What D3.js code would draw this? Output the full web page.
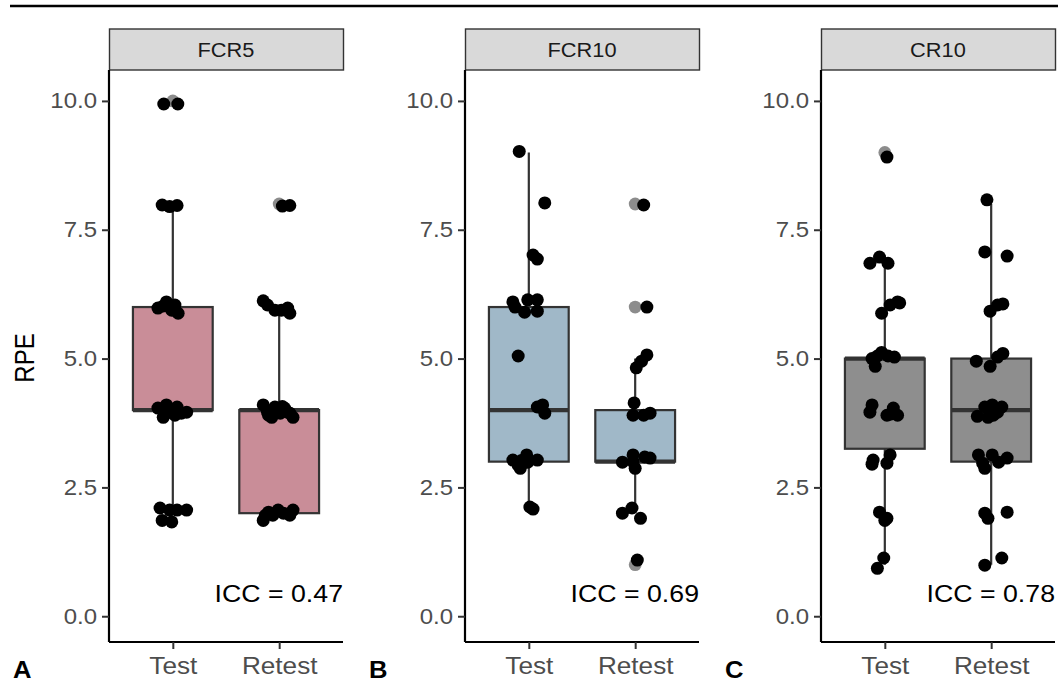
<!DOCTYPE html>
<html>
<head>
<meta charset="utf-8">
<script src="https://cdn.jsdelivr.net/npm/d3@7"></script>
<style>
  body { margin: 0; background: #fff; }
  svg { display: block; font-family: "Liberation Sans", Arial, sans-serif; }
</style>
</head>
<body>
<div id="chart"></div>
<script>
  const groups = ["Test", "Retest"];
  const panelNames = ["FCR5", "FCR10", "CR10"];
  const panelTags = ["A", "B", "C"];
  const iccLabels = ["ICC = 0.47", "ICC = 0.69", "ICC = 0.78"];
  const yTicks = [0, 2.5, 5, 7.5, 10];

  // [lower whisker, q1, median, q3, upper whisker] for Test, Retest
  const boxFCR5 = [[2, 4, 4, 6, 8], [2, 2, 4, 4, 6]];
  const boxFCR10 = [[2, 3, 4, 6, 9], [2, 3, 3, 4, 5]];
  const boxCR10 = [[1, 3.25, 5, 5, 7], [1, 3, 4, 5, 8]];

  const outFCR5 = [[10], [8]];
  const outFCR10 = [[], [1, 6, 8]];
  const outCR10 = [[9], []];

  // jittered points: [x jitter (category units), RPE]
  const ptsFCR5Test = [
    [-0.085, 9.94], [0.047, 9.94],
    [-0.10, 7.98], [-0.03, 7.95], [0.04, 7.97],
    [-0.14, 5.98], [-0.06, 6.10], [-0.01, 5.94], [0.05, 5.88], [-0.09, 6.02], [0.02, 6.04],
    [-0.14, 4.04], [-0.09, 3.86], [-0.06, 4.10], [-0.01, 4.00], [0.04, 4.06], [0.08, 3.94], [0.13, 3.96], [0.02, 3.90], [-0.03, 3.96],
    [-0.12, 2.10], [-0.03, 2.06], [0.04, 2.06], [0.13, 2.06], [-0.10, 1.86], [-0.01, 1.83]
  ];
  const ptsFCR5Retest = [
    [0.03, 7.96], [0.10, 7.97],
    [-0.15, 6.12], [-0.11, 6.04], [-0.04, 5.94], [0.02, 5.94], [0.08, 5.98], [0.10, 5.88],
    [-0.15, 4.10], [-0.11, 3.96], [-0.07, 3.86], [-0.04, 4.06], [0.01, 3.94], [0.05, 4.04], [0.10, 3.94], [0.13, 3.86], [-0.06, 3.96], [0.03, 4.07], [-0.10, 3.90], [0.08, 3.96],
    [-0.15, 1.86], [-0.10, 2.02], [-0.06, 1.96], [-0.01, 2.06], [0.04, 2.00], [0.10, 1.96], [0.13, 2.06], [-0.13, 1.96]
  ];
  const ptsFCR10Test = [
    [-0.09, 9.02], [0.15, 8.02], [0.04, 7.01], [0.08, 6.93],
    [-0.15, 6.10], [-0.13, 6.00], [-0.04, 5.90], [-0.01, 6.14], [0.08, 6.14], [0.08, 5.92],
    [-0.10, 5.05],
    [0.08, 4.06], [0.13, 4.10], [0.15, 3.94],
    [-0.15, 3.03], [-0.10, 2.93], [-0.08, 2.87], [-0.02, 3.13], [-0.01, 2.99], [0.08, 3.03], [-0.07, 3.02],
    [0.01, 2.12], [0.04, 2.08]
  ];
  const ptsFCR10Retest = [
    [0.08, 7.98], [0.11, 6.00],
    [0.11, 5.07], [0.06, 4.95], [0.01, 4.82],
    [-0.01, 4.14], [-0.02, 3.90], [0.08, 3.90], [0.14, 3.94],
    [-0.12, 2.99], [-0.02, 3.13], [0.00, 2.87], [0.09, 3.09], [0.14, 3.07], [-0.02, 3.00],
    [-0.12, 2.00], [-0.03, 2.10], [0.05, 1.90],
    [0.02, 1.09]
  ];
  const ptsCR10Test = [
    [0.02, 8.91],
    [-0.14, 6.85], [-0.05, 6.97], [0.03, 6.85],
    [-0.03, 5.88], [0.05, 6.04], [0.12, 6.10], [0.14, 6.08],
    [-0.12, 5.00], [-0.09, 4.85], [-0.03, 5.12], [0.03, 5.05], [0.09, 5.03], [-0.07, 5.05],
    [-0.12, 4.10], [-0.14, 3.96], [0.02, 3.90], [0.08, 4.04], [0.12, 3.90], [0.05, 3.92],
    [-0.11, 3.03], [-0.12, 2.95], [0.02, 2.97], [0.05, 3.13],
    [-0.05, 2.02], [0.00, 1.86], [0.02, 1.90],
    [-0.01, 1.13], [-0.07, 0.93]
  ];
  const ptsCR10Retest = [
    [-0.04, 8.08], [-0.06, 7.07], [0.15, 6.99],
    [-0.01, 5.92], [0.06, 6.04], [0.11, 6.06],
    [-0.14, 4.95], [-0.01, 4.85], [0.06, 5.03], [0.11, 5.10],
    [-0.13, 3.88], [-0.06, 4.06], [0.01, 4.10], [0.06, 3.96], [0.10, 4.06], [-0.03, 3.86], [0.02, 3.90],
    [-0.12, 3.13], [-0.08, 2.97], [-0.06, 2.87], [0.01, 3.13], [0.07, 2.99], [0.15, 3.07],
    [-0.06, 2.00], [-0.03, 1.90], [0.15, 2.02],
    [-0.06, 0.99], [0.10, 1.13]
  ];

  const panelFills = ["#c98d98", "#a0b8c8", "#8e8e8e"];
  const panels = [
    { box: boxFCR5, out: outFCR5, pts: [ptsFCR5Test, ptsFCR5Retest] },
    { box: boxFCR10, out: outFCR10, pts: [ptsFCR10Test, ptsFCR10Retest] },
    { box: boxCR10, out: outCR10, pts: [ptsCR10Test, ptsCR10Retest] }
  ];

  const W = 1058, H = 682;
  const STRETCH = 1.09; // picture is slightly wider than tall
  const panelLeft = 109, panelGap = 356, panelW = 234;
  const stripTop = 29, plotTop = 70, plotBottom = 642;

  const svg = d3.select("#chart").append("svg")
    .attr("width", W)
    .attr("height", H);

  svg.append("rect").attr("width", W).attr("height", H).attr("fill", "#fff");

  svg.append("line")
    .attr("x1", 10).attr("x2", W)
    .attr("y1", 6).attr("y2", 6)
    .attr("stroke", "#000").attr("stroke-width", 2.6);

  const y = d3.scaleLinear()
    .domain([-0.5, 10.6])
    .range([plotBottom, plotTop]);

  function stretch(sel) {
    sel.each(function () {
      const w = this.getComputedTextLength();
      d3.select(this).attr("textLength", w * STRETCH).attr("lengthAdjust", "spacingAndGlyphs");
    });
  }

  panels.forEach((panel, pi) => {
    const g = svg.append("g")
      .attr("transform", "translate(" + (panelLeft + pi * panelGap) + ",0)");

    const x = d3.scalePoint()
      .domain(groups)
      .range([0, panelW])
      .padding(0.6);
    const step = x.step();
    const boxW = step * 0.75;

    // strip
    g.append("rect")
      .attr("x", 0.5).attr("y", stripTop)
      .attr("width", panelW).attr("height", plotTop - stripTop)
      .attr("fill", "#d9d9d9")
      .attr("stroke", "#333").attr("stroke-width", 1.4);
    g.append("text")
      .attr("x", panelW / 2).attr("y", (stripTop + plotTop) / 2)
      .attr("dy", "0.36em")
      .attr("text-anchor", "middle")
      .attr("font-size", 20)
      .attr("fill", "#1a1a1a")
      .text(panelNames[pi])
      .call(stretch);

    // boxes
    groups.forEach((grp, gi) => {
      const s = panel.box[gi];
      const cx = x(grp);
      g.append("line")
        .attr("x1", cx).attr("x2", cx)
        .attr("y1", y(s[0])).attr("y2", y(s[4]))
        .attr("stroke", "#333").attr("stroke-width", 2.2);
      g.append("rect")
        .attr("x", cx - boxW / 2).attr("y", y(s[3]))
        .attr("width", boxW).attr("height", y(s[1]) - y(s[3]))
        .attr("fill", panelFills[pi])
        .attr("stroke", "#333").attr("stroke-width", 2.2);
      g.append("line")
        .attr("x1", cx - boxW / 2).attr("x2", cx + boxW / 2)
        .attr("y1", y(s[2])).attr("y2", y(s[2]))
        .attr("stroke", "#333").attr("stroke-width", 4.4);

      g.selectAll(null)
        .data(panel.out[gi])
        .join("circle")
        .attr("cx", cx)
        .attr("cy", d => y(d))
        .attr("r", 6.4)
        .attr("fill", "#000")
        .attr("fill-opacity", 0.45);
    });

    groups.forEach((grp, gi) => {
      g.selectAll(null)
        .data(panel.pts[gi])
        .join("circle")
        .attr("cx", d => x(grp) + d[0] * step)
        .attr("cy", d => y(d[1]))
        .attr("r", 6.5)
        .attr("fill", "#000");
    });

    // axes
    const yAxis = g.append("g")
      .call(d3.axisLeft(y).tickValues(yTicks).tickFormat(d3.format(".1f")).tickSize(7).tickPadding(5));
    const xAxis = g.append("g")
      .attr("transform", "translate(0," + plotBottom + ")")
      .call(d3.axisBottom(x).tickSize(7).tickPadding(8));
    [yAxis, xAxis].forEach(a => {
      a.select(".domain").attr("stroke", "#000").attr("stroke-width", 2.2);
      a.selectAll(".tick line").attr("stroke", "#333").attr("stroke-width", 2);
      a.selectAll(".tick text").attr("fill", "#4d4d4d").attr("font-family", null);
    });
    yAxis.selectAll(".tick text").attr("font-size", 22).call(stretch);
    xAxis.selectAll(".tick text").attr("font-size", 24).call(stretch);
    // axis lines stop at the panel edges
    yAxis.select(".domain").attr("d", "M0," + plotTop + "V" + plotBottom);
    xAxis.select(".domain").attr("d", "M0,0H" + panelW);

    // ICC annotation
    g.append("text")
      .attr("x", panelW)
      .attr("y", y(0.28))
      .attr("text-anchor", "end")
      .attr("font-size", 24.5)
      .attr("fill", "#000")
      .text(iccLabels[pi])
      .call(stretch);

    // panel tag
    g.append("text")
      .attr("x", 13 - panelLeft)
      .attr("y", 678)
      .attr("font-size", 23.5)
      .attr("font-weight", "bold")
      .attr("fill", "#000")
      .text(panelTags[pi])
      .call(stretch);
  });

  svg.append("text")
    .attr("transform", "translate(34,358) scale(1.15,1) rotate(-90)")
    .attr("text-anchor", "middle")
    .attr("font-size", 24)
    .attr("fill", "#000")
    .text("RPE");
</script>
</body>
</html>
